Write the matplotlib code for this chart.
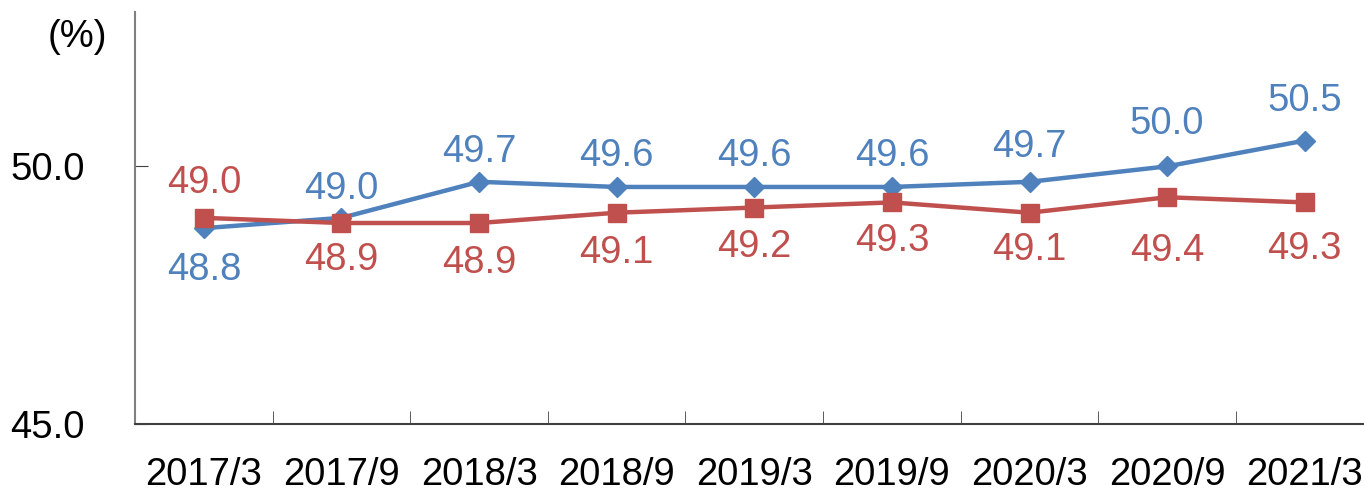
import matplotlib.pyplot as plt
from matplotlib.ticker import FixedLocator

plt.rcParams['font.family'] = ['Liberation Sans', 'DejaVu Sans']

# categories and series
periods = ['2017/3', '2017/9', '2018/3', '2018/9', '2019/3',
           '2019/9', '2020/3', '2020/9', '2021/3']
blue_vals = [48.8, 49.0, 49.7, 49.6, 49.6, 49.6, 49.7, 50.0, 50.5]
red_vals = [49.0, 48.9, 48.9, 49.1, 49.2, 49.3, 49.1, 49.4, 49.3]

# label offsets from the marker, in pixels (positive = above)
blue_lab_off = [-42, 29, 30, 31, 31, 31, 35, 42, 40]
red_lab_off = [35, -37, -40, -40, -39, -39, -37, -54, -47]

blue = '#4F81BD'
red = '#C0504D'

fig = plt.figure(figsize=(13.64, 4.94), dpi=100)
ax = fig.add_axes([0.099, 0.142, 0.908, 0.834])

x = list(range(len(periods)))
ax.plot(x, blue_vals, color=blue, lw=3.2, marker='D', ms=10, zorder=3)
ax.plot(x, red_vals, color=red, lw=3.2, marker='s', ms=13, zorder=4)

px2pt = 72 / fig.dpi
for vals, offs, col in [(blue_vals, blue_lab_off, blue), (red_vals, red_lab_off, red)]:
    for i, v in enumerate(vals):
        ax.annotate(f'{v:.1f}', (i, v), xytext=(0, offs[i] * px2pt),
                    textcoords='offset points', ha='center', va='center',
                    color=col, fontsize=27.5)

ax.set_xlim(-0.5, len(periods) - 0.5)
ax.set_ylim(45, 53)
ax.set_yticks([45, 50])
ax.set_yticklabels(['45.0', '50.0'], fontsize=27.5)
ax.set_xticks(x)
ax.set_xticklabels(periods, fontsize=27.5)
ax.xaxis.set_minor_locator(FixedLocator([i + 0.5 for i in range(-1, len(periods))]))
ax.tick_params(axis='x', which='major', length=0, pad=24)
ax.tick_params(axis='x', which='minor', direction='in', length=9.5, color='#404040')
ax.tick_params(axis='y', direction='in', length=9.5, pad=36, color='#404040')

for s in ['top', 'right']:
    ax.spines[s].set_visible(False)
ax.spines['left'].set_color('#808080')
ax.spines['left'].set_linewidth(1.5)
ax.spines['bottom'].set_color('#404040')
ax.spines['bottom'].set_linewidth(1.5)

fig.text(0.057, 0.925, '(%)', fontsize=27.5, ha='center', va='center')

fig.savefig('out.png', dpi=100)
